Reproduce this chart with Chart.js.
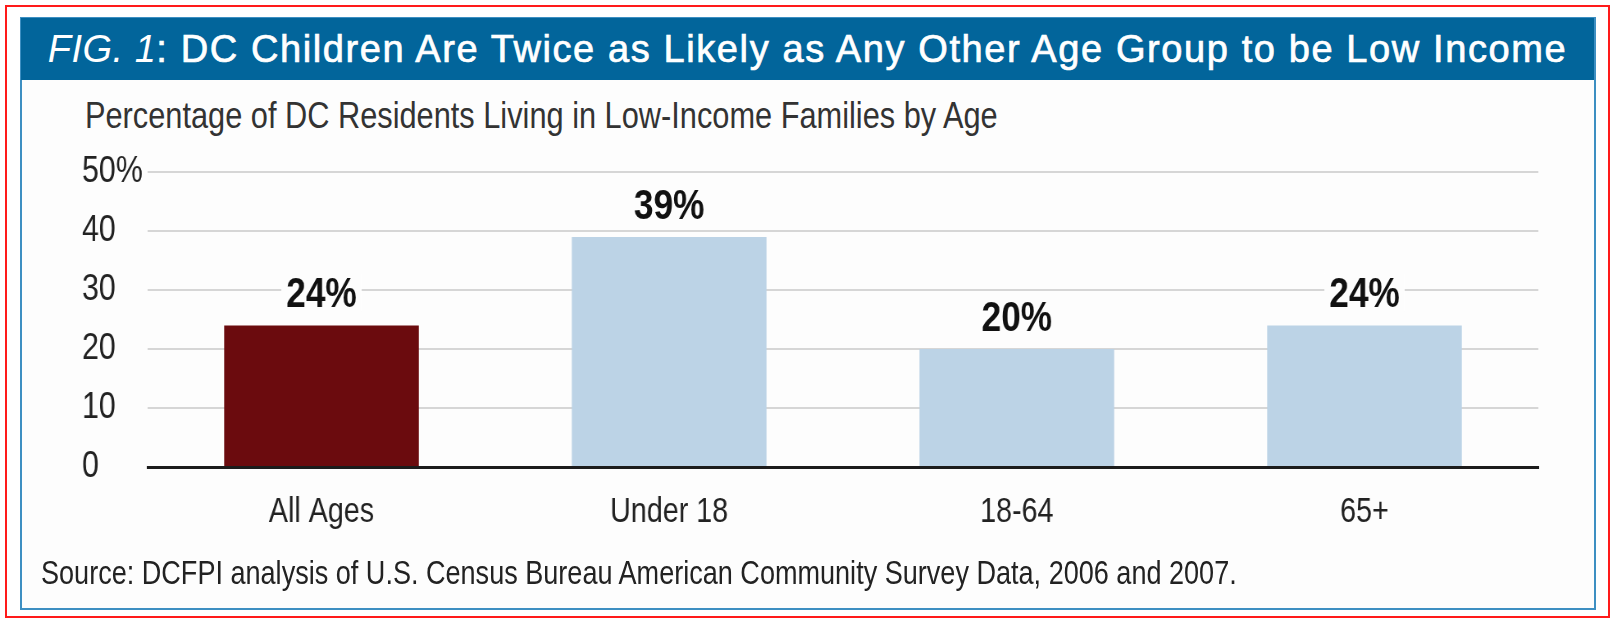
<!DOCTYPE html>
<html>
<head>
<meta charset="utf-8">
<script src="https://cdn.jsdelivr.net/npm/chart.js@4/dist/chart.umd.min.js"></script>
<style>
  html, body { margin: 0; padding: 0; background: #fff; }
  body { width: 1615px; height: 618px; position: relative; overflow: hidden; }
  #frame { position: absolute; left: 5px; top: 5px; width: 1605px; height: 613px; border: 2px solid #ff1a1a; box-sizing: border-box; }
  #box { position: absolute; left: 20px; top: 17px; width: 1576px; height: 593px; border: 2px solid #3d8fc2; box-sizing: border-box; background: #fdfdfd; }
  #band { position: absolute; left: 21px; top: 18px; width: 1573px; height: 62px; background: #02659b; color: #fff;
          font: 38px "Liberation Sans", Arial, sans-serif; line-height: 62px; text-align: center; white-space: nowrap;
          letter-spacing: 1.6px; -webkit-text-stroke: 0.7px #fff; }
  #band i { font-style: italic; -webkit-text-stroke: 0; letter-spacing: 0.5px; }
  /* narrow look: Liberation Sans squeezed like Arial Narrow */
  .narrow { position: absolute; white-space: nowrap; transform: scaleX(0.82); transform-origin: 0 0;
            font-family: "Liberation Sans", Arial, sans-serif; }
  #subtitle { left: 85px; top: 94px; color: #333; font-size: 37.5px; }
  #source { left: 41px; top: 554px; color: #222; font-size: 33px; }
  #wrap { position: absolute; left: 0; top: 130px; transform: scaleX(0.82); transform-origin: 0 0; }
  #chart { display: block; }
</style>
</head>
<body>
<div id="frame"></div>
<div id="box"></div>
<div id="band"><i>FIG. 1</i>: DC Children Are Twice as Likely as Any Other Age Group to be Low Income</div>
<div id="subtitle" class="narrow">Percentage of DC Residents Living in Low-Income Families by Age</div>
<div id="wrap"><canvas id="chart" width="1970" height="430"></canvas></div>
<div id="source" class="narrow">Source: DCFPI analysis of U.S. Census Bureau American Community Survey Data, 2006 and 2007.</div>
<script>
// Data
const categories = ['All Ages', 'Under 18', '18-64', '65+'];
const lowIncomeShare = [24, 39, 20, 24];
const yTicks = [0, 10, 20, 30, 40, 50];

const fam = '"Liberation Sans", Arial, sans-serif';

// value labels above each bar, with a white patch so the gridline breaks around it
const barLabels = {
  id: 'barLabels',
  afterDatasetsDraw(chart) {
    const ctx = chart.ctx;
    const meta = chart.getDatasetMeta(0);
    ctx.save();
    ctx.font = 'bold 43px ' + fam;
    ctx.textAlign = 'center';
    ctx.textBaseline = 'alphabetic';
    meta.data.forEach((bar, i) => {
      const txt = lowIncomeShare[i] + '%';
      const w = ctx.measureText(txt).width;
      const base = bar.y - 18;
      ctx.fillStyle = '#fdfdfd';
      ctx.fillRect(bar.x - w / 2 - 6, base - 34, w + 12, 38);
      ctx.fillStyle = '#111';
      ctx.fillText(txt, bar.x, base);
    });
    ctx.restore();
  }
};

var ctx = document.getElementById('chart').getContext('2d');
var chart = new Chart(ctx, {
  type: 'bar',
  data: {
    labels: categories,
    datasets: [{
      data: lowIncomeShare,
      backgroundColor: c => c.dataIndex === 0 ? '#6b0b0e' : '#bcd3e6',
      categoryPercentage: 1,
      barPercentage: 0.56
    }]
  },
  options: {
    responsive: false,
    animation: false,
    layout: { padding: { left: 100, right: 94, top: 42, bottom: 11 } },
    plugins: {
      legend: { display: false },
      tooltip: { enabled: false }
    },
    scales: {
      x: {
        grid: { display: false },
        border: { display: true, color: '#1c1c1c', width: 3 },
        ticks: { color: '#222', padding: 16, font: { family: fam, size: 35 } }
      },
      y: {
        min: 0,
        max: 50,
        afterBuildTicks: axis => { axis.ticks = yTicks.map(v => ({ value: v })); },
        grid: {
          drawTicks: false,
          color: c => c.tick.value === 0 ? 'rgba(0,0,0,0)' : '#d6d6d6',
          lineWidth: 2
        },
        border: { display: false },
        ticks: {
          color: '#222',
          padding: 3,
          crossAlign: 'far',
          font: { family: fam, size: 37 },
          callback: v => v === 50 ? '50%' : v
        }
      }
    }
  },
  plugins: [barLabels]
});
</script>
</body>
</html>
